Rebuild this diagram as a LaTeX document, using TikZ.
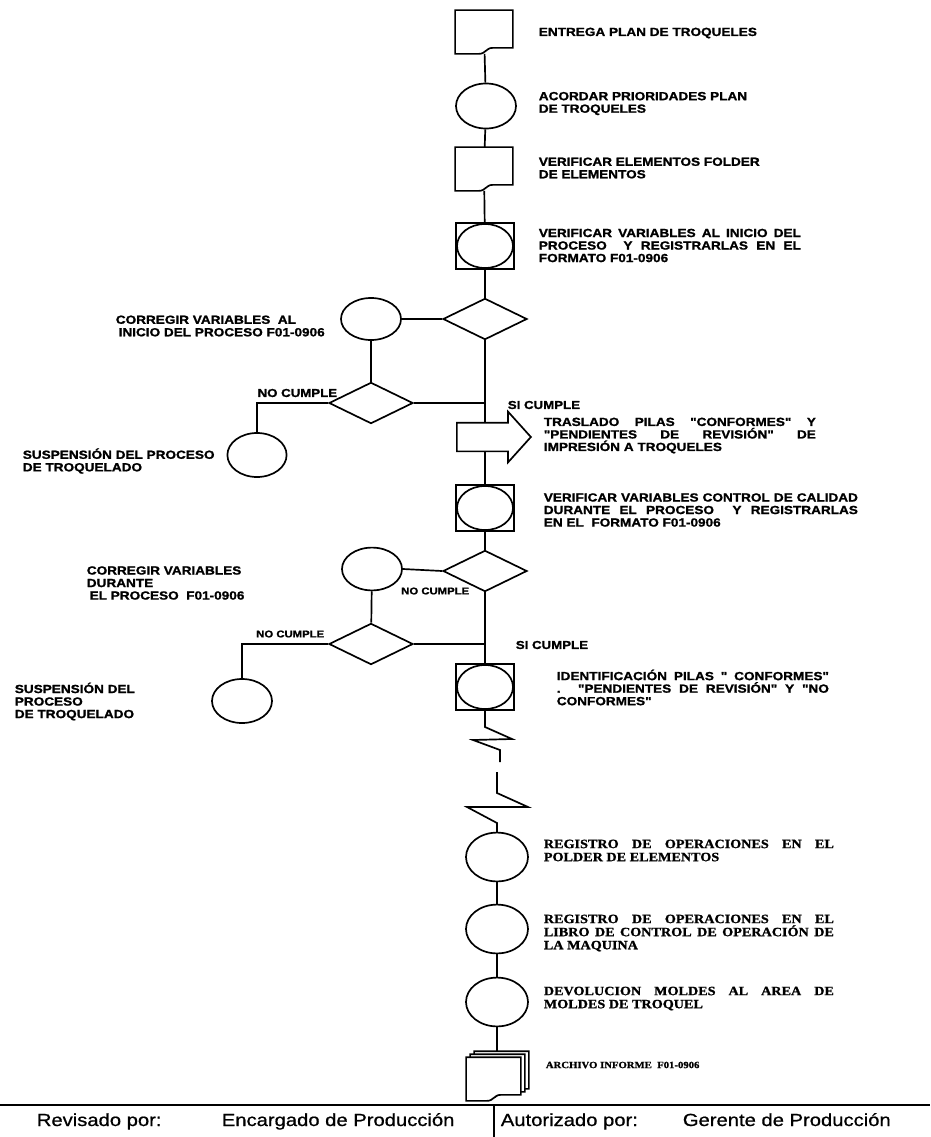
\documentclass[tikz,border=0pt]{standalone}
\usepackage{fontspec}
\usetikzlibrary{shapes.geometric,shapes.arrows}
\newfontfamily\lblfont[FakeStretch=1.15,BoldFeatures={FakeBold=1.3}]{Liberation Sans}
\newfontfamily\serfont[FakeStretch=1.12,BoldFeatures={FakeBold=1.2}]{Liberation Serif}
\newfontfamily\footfont[FakeStretch=1.15,FakeBold=0.8]{Liberation Sans}

% document symbol with a wavy bottom edge
\newcommand\docedge[1]{%
  \draw[fill=white] (#1.south west) -- (#1.north west) -- (#1.north east)
    -- ([yshift=0.15cm]#1.south east) -- ++(-0.5cm,0)
    .. controls +(-0.18cm,0) and +(0.18cm,0) .. ++(-0.35cm,-0.15cm) -- cycle;}

\tikzset{
  proc/.style={ellipse, draw, minimum width=1.5cm, minimum height=1.125cm, inner sep=0pt},
  bigproc/.style={proc, minimum width=1.55cm, minimum height=1.22cm},
  boxproc/.style={rectangle, draw, minimum width=1.45cm, minimum height=1.15cm, inner sep=0pt,
    path picture={\draw (path picture bounding box.center) ellipse (0.7cm and 0.55cm);}},
  docnode/.style={minimum width=1.4cm, minimum height=1.05cm, inner sep=0pt},
  dec/.style={diamond, draw, minimum width=2.1cm, minimum height=1.03cm, inner sep=0pt},
  bigarrow/.style={single arrow, draw, fill=white, minimum height=1.85cm,
    inner xsep=0pt, inner ysep=0.3375cm,
    single arrow head extend=0.275cm, single arrow tip angle=96, anchor=tail},
  lbl/.style={font=\lblfont\bfseries\fontsize{8.4}{8.9}\selectfont, anchor=west, align=left, inner sep=0pt},
  jlbl/.style={lbl, align=justify, text width=#1},
  slbl/.style={font=\serfont\bfseries\fontsize{9}{9.3}\selectfont, anchor=west, align=justify,
    inner sep=0pt, text width=#1},
  cmp/.style={font=\lblfont\bfseries\fontsize{7}{7}\selectfont, inner sep=0pt},
  foot/.style={font=\footfont\fontsize{12.5}{12.5}\selectfont, anchor=base west, inner sep=0pt}
}

\begin{document}
\begin{tikzpicture}[x=0.025cm, y=-0.025cm, line width=1.2pt]
  \useasboundingbox (0,0) rectangle (930,1137);

  % main column
  \node[docnode] (1) at (484,32) {};
  \node[proc] (2) at (486,106) {};
  \node[docnode] (3) at (484,169) {};
  \node[boxproc] (4) at (485,246) {};
  \node[dec] (5) at (485,319) {};
  \node[proc, minimum height=1.05cm] (6) at (371,319) {};
  \node[dec] (7) at (371,403) {};
  \node[proc, minimum width=1.48cm, minimum height=1.1cm] (8) at (257,455) {};
  \node[boxproc] (10) at (485,508) {};
  \node[dec] (11) at (485,571) {};
  \node[proc, minimum height=1.07cm] (12) at (372,569) {};
  \node[dec] (13) at (371,644) {};
  \node[proc, minimum height=1.1cm] (14) at (242,701) {};
  \node[boxproc] (15) at (485,687) {};
  \node[bigproc] (16) at (497,857) {};
  \node[bigproc] (17) at (497,929) {};
  \node[bigproc] (18) at (497,1002) {};
  \node[docnode, minimum width=1.325cm] (19c) at (501.5,1073) {};
  \node[docnode, minimum width=1.325cm] (19b) at (497.5,1076) {};
  \node[docnode, minimum width=1.325cm] (19) at (493.5,1079) {};
  \coordinate (j1) at (485,403);
  \coordinate (j2) at (485,644);
  \coordinate (z1) at (500,762);
  \coordinate (z2) at (497,772);

  \draw (1) -- (2);
  \draw (2) -- (3);
  \draw (3) -- (4);
  \draw (4) -- (5);
  \draw (5.west) -- (6.east);
  \draw (6) -- (7);
  \draw (7.east) -- (j1);
  \draw (7.west) -| (8.north);
  \draw (5.south) -- (10.north);
  \draw (10) -- (11);
  \draw (11.west) -- (12.east);
  \draw (12) -- (13);
  \draw (13.east) -- (j2);
  \draw (13.west) -| (14.north);
  \draw (11.south) -- (15.north);
  \draw (15.south) -- (485,727) -- (512,739) -- (473,740) -- (500,750) -- (z1);
  \draw (z2) -- (497,793) -- (528,807) -- (467,807) -- (497,823) -- (16.north);
  \draw (16) -- (17);
  \draw (17) -- (18);
  \draw (18.south) -- (18.south |- 19c.north);

  \node[bigarrow] (9) at (456,437) {};
  \docedge{1}
  \docedge{3}
  \docedge{19c}
  \docedge{19b}
  \docedge{19}

  % labels
  \node[lbl] (t1) at (538,33) {ENTREGA PLAN DE TROQUELES};
  \node[lbl] (t2) at (538,103.5) {ACORDAR PRIORIDADES PLAN\\DE TROQUELES};
  \node[lbl] (t3) at (538,168) {VERIFICAR ELEMENTOS FOLDER\\DE ELEMENTOS};
  \node[jlbl=6.55cm] (t4) at (538,245.5) {VERIFICAR VARIABLES AL INICIO DEL\linebreak PROCESO\ \ Y REGISTRARLAS EN EL\linebreak FORMATO F01-0906};
  \node[lbl] (t5) at (115,326) {CORREGIR VARIABLES\ \ AL\\\hspace{2pt}INICIO DEL PROCESO F01-0906};
  \node[lbl] (t6) at (22,461) {SUSPENSIÓN DEL PROCESO\\DE TROQUELADO};
  \node[jlbl=6.8cm] (t7) at (543,435.5) {TRASLADO PILAS "CONFORMES" Y\linebreak "PENDIENTES DE REVISIÓN" DE\linebreak IMPRESIÓN A TROQUELES};
  \node[jlbl=7.85cm] (t8) at (543,510) {VERIFICAR VARIABLES CONTROL DE CALIDAD\linebreak DURANTE EL PROCESO\ \ Y REGISTRARLAS\linebreak EN EL\ \ FORMATO F01-0906};
  \node[lbl] (t9) at (86,583) {CORREGIR VARIABLES\\DURANTE\\\hspace{2pt}EL PROCESO\ \ F01-0906};
  \node[lbl] (t10) at (14,701.5) {SUSPENSIÓN DEL\\PROCESO\\DE TROQUELADO};
  \node[jlbl=6.8cm] (t11) at (556,687.5) {IDENTIFICACIÓN PILAS " CONFORMES"\linebreak . "PENDIENTES DE REVISIÓN" Y "NO\linebreak CONFORMES"};
  \node[slbl=7.25cm] (t12) at (543,850.5) {REGISTRO DE OPERACIONES EN EL\linebreak POLDER DE ELEMENTOS};
  \node[slbl=7.25cm] (t13) at (543,933) {REGISTRO DE OPERACIONES EN EL\linebreak LIBRO DE CONTROL DE OPERACIÓN DE\linebreak LA MAQUINA};
  \node[slbl=7.25cm] (t14) at (543,998.5) {DEVOLUCION MOLDES AL AREA DE\linebreak MOLDES DE TROQUEL};
  \node[font=\serfont\bfseries\fontsize{6.8}{7}\selectfont, anchor=west, inner sep=0pt] (t15) at (545,1065) {ARCHIVO INFORME\ \ F01-0906};

  \node[cmp, font=\lblfont\bfseries\fontsize{8.2}{8}\selectfont, anchor=east] (n1) at (338,393) {NO CUMPLE};
  \node[cmp, anchor=east] (n2) at (470,591) {NO CUMPLE};
  \node[cmp, anchor=east] (n3) at (325,634) {NO CUMPLE};
  \node[cmp, font=\lblfont\bfseries\fontsize{8.2}{8}\selectfont, anchor=west] (s1) at (507,405) {SI CUMPLE};
  \node[cmp, font=\lblfont\bfseries\fontsize{8.2}{8}\selectfont, anchor=west] (s2) at (515,645) {SI CUMPLE};

  % signature strip
  \draw[line width=1.6pt] (0,1105) -- (930,1105);
  \draw (494,1105) -- (494,1137);
  \node[foot] (f1) at (36,1126) {Revisado por:};
  \node[foot] (f2) at (221,1126) {Encargado de Producción};
  \node[foot] (f3) at (500,1126) {Autorizado por:};
  \node[foot] (f4) at (682,1126) {Gerente de Producción};
\end{tikzpicture}
\end{document}
